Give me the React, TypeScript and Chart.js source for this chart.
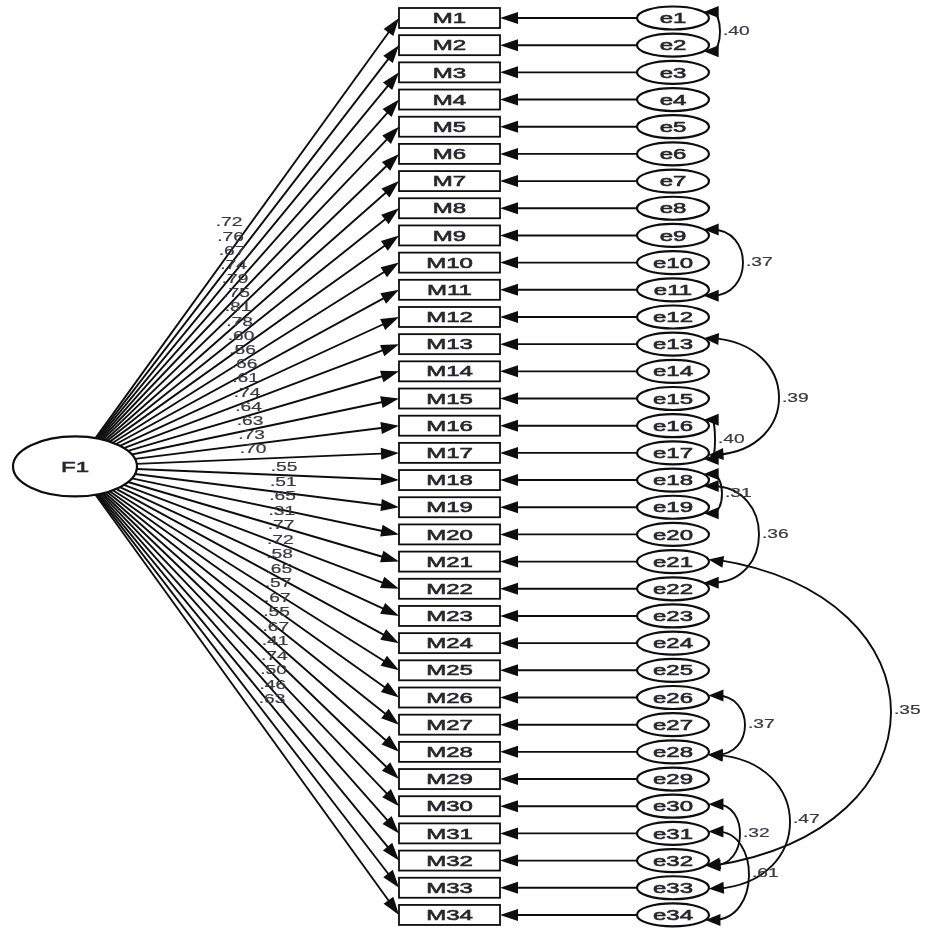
import React, { useEffect, useRef } from "react";
import { Chart, registerables } from "chart.js";

Chart.register(...registerables);

// ---------------- data ----------------
const factorName = "F1";
const indicators = [
  "M1", "M2", "M3", "M4", "M5", "M6", "M7", "M8", "M9", "M10", "M11", "M12",
  "M13", "M14", "M15", "M16", "M17", "M18", "M19", "M20", "M21", "M22", "M23",
  "M24", "M25", "M26", "M27", "M28", "M29", "M30", "M31", "M32", "M33", "M34",
];
const errorTerms = [
  "e1", "e2", "e3", "e4", "e5", "e6", "e7", "e8", "e9", "e10", "e11", "e12",
  "e13", "e14", "e15", "e16", "e17", "e18", "e19", "e20", "e21", "e22", "e23",
  "e24", "e25", "e26", "e27", "e28", "e29", "e30", "e31", "e32", "e33", "e34",
];
const loadings = [
  0.72, 0.76, 0.67, 0.74, 0.79, 0.75, 0.81, 0.78, 0.6, 0.56, 0.66, 0.61, 0.74,
  0.64, 0.63, 0.73, 0.7, 0.55, 0.51, 0.65, 0.31, 0.77, 0.72, 0.58, 0.65, 0.57,
  0.67, 0.55, 0.67, 0.41, 0.74, 0.5, 0.46, 0.63,
];
const covFrom = ["e1", "e9", "e13", "e16", "e18", "e18", "e21", "e26", "e28", "e30", "e31"];
const covTo = ["e2", "e11", "e17", "e17", "e19", "e22", "e32", "e28", "e33", "e32", "e34"];
const covValues = [0.4, 0.37, 0.39, 0.4, 0.31, 0.36, 0.35, 0.37, 0.47, 0.32, 0.61];

// ---------------- styling / layout ----------------
const W = 928;
const H = 933;
const ROW0 = 18;
const ROWSTEP = 27.18;
const BOX_CX = 449.5;
const BOX_W = 101;
const BOX_H = 20;
const ERR_CX = 673;
const ERR_RX = 36;
const ERR_RY = 11.5;
const FAC_CX = 75;
const FAC_ROW = 16.5;
const FAC_RX = 62;
const FAC_RY = 30;
const FONT = '"Liberation Sans", Arial, Helvetica, sans-serif';
const STRETCH = 1.6;
const INK = "#0d0d0d";
// how far each covariance arc bulges to the right (px beyond the ellipses)
const ARC_REACH = [15, 38, 74, 10, 17, 54, 186, 40, 85, 35, 44];
// vertical attach offsets on the two ellipses
const ARC_ATTACH: [number, number][] = [
  [-6, 6], [-6, 6], [-6, 2], [-6, 6], [-6, 6], [6, -6], [-2, 5], [-2, 3], [3, 1], [-2, 5], [-2, 5],
];
// tilt of arc leaving direction (fraction of chord), bigger = more diagonal start
const ARC_TILT = [0, 0, 0.05, 0, 0, 0, 0.12, 0, 0.05, 0, 0];

const fmt = (v: number) => v.toFixed(2).replace(/^0/, "");

export default function App() {
  const ref = useRef<HTMLCanvasElement>(null);

  useEffect(() => {
    const canvas = ref.current;
    if (!canvas) return;

    const yMin = -ROW0 / ROWSTEP;
    const yMax = (H - ROW0) / ROWSTEP;

    const text = (
      ctx: CanvasRenderingContext2D,
      s: string,
      x: number,
      y: number,
      size: number,
      align: CanvasTextAlign,
      color: string,
      weight = 0.5
    ) => {
      ctx.save();
      ctx.translate(x, y);
      ctx.scale(STRETCH, 1);
      ctx.font = `${size}px ${FONT}`;
      ctx.fillStyle = color;
      ctx.strokeStyle = color;
      ctx.lineWidth = weight;
      ctx.textAlign = align;
      ctx.textBaseline = "middle";
      ctx.fillText(s, 0, 0);
      if (weight > 0) ctx.strokeText(s, 0, 0);
      ctx.restore();
    };

    const arrowHead = (
      ctx: CanvasRenderingContext2D,
      tx: number,
      ty: number,
      dx: number,
      dy: number,
      len: number,
      hw: number
    ) => {
      const n = Math.hypot(dx, dy) || 1;
      const ux = dx / n;
      const uy = dy / n;
      const bx = tx - ux * len;
      const by = ty - uy * len;
      ctx.beginPath();
      ctx.moveTo(tx, ty);
      ctx.lineTo(bx - uy * hw, by + ux * hw);
      ctx.lineTo(bx + uy * hw, by - ux * hw);
      ctx.closePath();
      ctx.fill();
    };

    const diagram = {
      id: "semDiagram",
      afterDatasetsDraw(chart: any) {
        const ctx: CanvasRenderingContext2D = chart.ctx;
        const boxes = chart.getDatasetMeta(0).data;
        const errs = chart.getDatasetMeta(1).data;
        const fac = chart.getDatasetMeta(2).data[0];
        const fx = fac.x;
        const fy = fac.y;
        ctx.save();
        ctx.strokeStyle = INK;
        ctx.fillStyle = INK;
        ctx.lineCap = "butt";

        // factor loadings lines
        ctx.lineWidth = 1.9;
        boxes.forEach((b: any) => {
          const tx = b.x - BOX_W / 2;
          const ty = b.y;
          const dx = tx - fx;
          const dy = ty - fy;
          const t = 1 / Math.sqrt((dx / FAC_RX) ** 2 + (dy / FAC_RY) ** 2);
          const sx = fx + dx * t;
          const sy = fy + dy * t;
          const n = Math.hypot(dx, dy);
          ctx.beginPath();
          ctx.moveTo(sx, sy);
          ctx.lineTo(tx - (dx / n) * 12, ty - (dy / n) * 12);
          ctx.stroke();
          arrowHead(ctx, tx, ty, dx, dy, 18, 6);
        });

        // error arrows
        errs.forEach((e: any, i: number) => {
          const b = boxes[i];
          const tx = b.x + BOX_W / 2;
          ctx.beginPath();
          ctx.moveTo(e.x - ERR_RX, e.y);
          ctx.lineTo(tx + 12, b.y);
          ctx.stroke();
          arrowHead(ctx, tx, b.y, -1, 0, 18, 6);
        });

        // boxes
        ctx.lineWidth = 1.8;
        boxes.forEach((b: any) => {
          ctx.fillStyle = "#fff";
          ctx.fillRect(b.x - BOX_W / 2, b.y - BOX_H / 2, BOX_W, BOX_H);
          ctx.strokeRect(b.x - BOX_W / 2, b.y - BOX_H / 2, BOX_W, BOX_H);
        });

        // error ellipses
        ctx.lineWidth = 2.2;
        errs.forEach((e: any) => {
          ctx.beginPath();
          ctx.ellipse(e.x, e.y, ERR_RX, ERR_RY, 0, 0, Math.PI * 2);
          ctx.fillStyle = "#fff";
          ctx.fill();
          ctx.stroke();
        });

        // factor ellipse
        ctx.beginPath();
        ctx.ellipse(fx, fy, FAC_RX, FAC_RY, 0, 0, Math.PI * 2);
        ctx.fillStyle = "#fff";
        ctx.fill();
        ctx.lineWidth = 2.2;
        ctx.stroke();

        // covariance arcs
        ctx.lineWidth = 1.9;
        ctx.fillStyle = INK;
        const arcLabels: { s: string; x: number; y: number }[] = [];
        covFrom.forEach((a, k) => {
          const ia = errorTerms.indexOf(a);
          const ib = errorTerms.indexOf(covTo[k]);
          const ea = errs[ia];
          const eb = errs[ib];
          const [oa, ob] = ARC_ATTACH[k];
          const xa = ea.x + ERR_RX * Math.sqrt(Math.max(0, 1 - (oa / ERR_RY) ** 2));
          const xb = eb.x + ERR_RX * Math.sqrt(Math.max(0, 1 - (ob / ERR_RY) ** 2));
          const ya = ea.y + oa;
          const yb = eb.y + ob;
          const base = ea.x + 30;
          const chord = yb - ya;
          const tilt = ARC_TILT[k] * chord;
          // control x such that curve max x ≈ base + reach
          const cx = (base + ARC_REACH[k] - 0.125 * (xa + xb)) / 0.75;
          ctx.beginPath();
          ctx.moveTo(xa + 8, ya);
          ctx.bezierCurveTo(cx, ya + tilt, cx, yb - tilt, xb + 8, yb);
          ctx.stroke();
          arrowHead(ctx, xa, ya, -(cx - xa), -tilt, 15, 6);
          arrowHead(ctx, xb, yb, -(cx - xb), tilt, 15, 6);
          arcLabels.push({ s: fmt(covValues[k]), x: base + ARC_REACH[k] + 5, y: (ea.y + eb.y) / 2 });
        });

        // texts
        const tc = "#26262e";
        boxes.forEach((b: any, i: number) => text(ctx, indicators[i], b.x, b.y + 1, 15, "center", tc, 0.6));
        errs.forEach((e: any, i: number) => text(ctx, errorTerms[i], e.x, e.y + 1, 15, "center", tc, 0.6));
        text(ctx, factorName, fx, fy + 1, 15, "center", tc, 0.6);

        loadings.forEach((v, i) => {
          let lx: number;
          let ly: number;
          if (i < 17) {
            lx = 229 + i * 1.5;
            ly = 223 + i * 14.19;
          } else {
            const j = i - 17;
            lx = 284 - j * 0.75;
            ly = 468 + j * 14.5;
          }
          text(ctx, fmt(v), lx, ly, 12, "center", "#3a3a46", 0.2);
        });
        arcLabels.forEach((l) => text(ctx, l.s, l.x, l.y, 12, "left", "#3a3a46", 0.2));

        ctx.restore();
      },
    };

    const chart = new Chart(canvas, {
      type: "scatter",
      data: {
        datasets: [
          { label: "indicators", data: indicators.map((_, i) => ({ x: BOX_CX, y: i })), pointRadius: 0 },
          { label: "errors", data: errorTerms.map((_, i) => ({ x: ERR_CX, y: i })), pointRadius: 0 },
          { label: "factor", data: [{ x: FAC_CX, y: FAC_ROW }], pointRadius: 0 },
        ],
      },
      options: {
        responsive: false,
        animation: false,
        events: [],
        layout: { padding: 0 },
        scales: {
          x: { type: "linear", min: 0, max: W, display: false },
          y: { type: "linear", min: yMin, max: yMax, reverse: true, display: false },
        },
        plugins: {
          legend: { display: false },
          tooltip: { enabled: false },
          title: { display: false },
        },
      },
      plugins: [diagram],
    } as any);

    return () => chart.destroy();
  }, []);

  return (
    <div style={{ position: "absolute", left: 0, top: 0, width: W, height: H, background: "#fff" }}>
      <canvas ref={ref} width={W} height={H} style={{ display: "block" }} />
    </div>
  );
}
